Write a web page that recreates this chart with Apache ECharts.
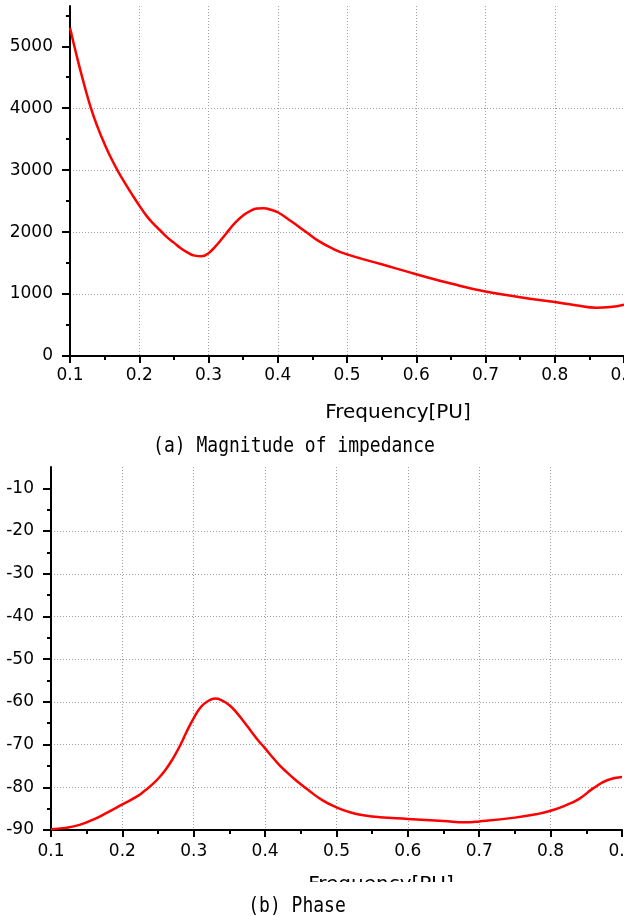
<!DOCTYPE html>
<html>
<head>
<meta charset="utf-8">
<script src="https://cdn.jsdelivr.net/npm/echarts@6/dist/echarts.min.js"></script>
<style>
html,body{margin:0;padding:0;background:#fff;}
#chart{width:624px;height:916px;}
</style>
</head>
<body>
<div id="chart"></div>
<script>
// ---- data ----
const magFreq = [0.10,0.11,0.12,0.13,0.14,0.15,0.16,0.17,0.18,0.19,0.20,0.21,0.22,0.23,0.24,0.25,0.26,0.27,0.28,0.29,0.30,0.31,0.32,0.33,0.34,0.35,0.36,0.37,0.38,0.39,0.40,0.42,0.44,0.46,0.48,0.50,0.55,0.60,0.65,0.70,0.75,0.80,0.83,0.86,0.88,0.90];
const magValues = [5300,4830,4400,4010,3690,3420,3180,2970,2780,2600,2430,2270,2140,2030,1920,1830,1740,1670,1620,1610,1660,1770,1900,2040,2170,2270,2340,2380,2385,2360,2320,2170,2010,1850,1730,1640,1480,1320,1170,1040,950,870,820,780,790,830];
const phaseFreq = [0.10,0.12,0.14,0.16,0.18,0.20,0.22,0.23,0.24,0.25,0.26,0.27,0.28,0.29,0.30,0.31,0.32,0.33,0.34,0.35,0.36,0.37,0.38,0.39,0.40,0.41,0.42,0.43,0.44,0.45,0.46,0.48,0.50,0.52,0.54,0.56,0.60,0.65,0.68,0.70,0.75,0.78,0.80,0.82,0.84,0.86,0.88,0.90];
const phaseValues = [-89.8,-89.5,-88.8,-87.5,-85.8,-84.0,-82.2,-81.0,-79.6,-78.0,-76.0,-73.5,-70.5,-67.0,-63.8,-61.2,-59.8,-59.2,-59.7,-60.8,-62.5,-64.6,-66.8,-69.0,-70.9,-72.9,-74.8,-76.4,-77.9,-79.3,-80.6,-83.0,-84.7,-85.9,-86.6,-87.0,-87.4,-87.9,-88.2,-88.0,-87.1,-86.3,-85.5,-84.3,-82.7,-80.2,-78.3,-77.6];
const xTickLabels = ['0.1','0.2','0.3','0.4','0.5','0.6','0.7','0.8','0.9'];
const magMajorTicks = [0,1000,2000,3000,4000,5000];
const magMinorTicks = [500,1500,2500,3500,4500,5500];
const phaseMajorTicks = [-90,-80,-70,-60,-50,-40,-30,-20,-10];
const phaseMinorTicks = [-85,-75,-65,-55,-45,-35,-25,-15];
const xAxisTitle = 'Frequency[PU]';
const captionA = '(a) Magnitude of impedance';
const captionB = '(b) Phase';

const labelFont = 'DejaVu Sans';
const gridLine = {show: true, lineStyle: {color: '#a0a0a0', type: [1, 2], width: 1}, showMaxLine: false, showMinLine: false};

function xAxisCfg(gridIndex, margin) {
  return {
    type: 'value', gridIndex, min: 0.1, max: 0.9, interval: 0.1,
    axisLine: {show: true, onZero: false, lineStyle: {color: '#000', width: 2}},
    axisTick: {show: true, length: 7, lineStyle: {color: '#000', width: 2}},
    minorTick: {show: true, splitNumber: 2, length: 4, lineStyle: {color: '#000', width: 2}},
    axisLabel: {color: '#000', fontFamily: labelFont, fontSize: 17, margin,
      formatter: v => xTickLabels[Math.round((v - 0.1) * 10)] || ''},
    splitLine: gridLine
  };
}
function yMajor(gridIndex, min, max, interval, ticks) {
  return {
    type: 'value', gridIndex, min, max, interval, position: 'left',
    axisLine: {show: true, onZero: false, lineStyle: {color: '#000', width: 2}},
    axisTick: {show: true, length: 8, customValues: ticks, lineStyle: {color: '#000', width: 2}},
    axisLabel: {color: '#000', fontFamily: labelFont, fontSize: 17, margin: 17, customValues: ticks,
      formatter: v => String(v)},
    splitLine: gridLine
  };
}
function yMinor(gridIndex, min, max, interval, ticks) {
  return {
    type: 'value', gridIndex, min, max, interval, position: 'left',
    axisLine: {show: false},
    axisTick: {show: true, length: 4, customValues: ticks, lineStyle: {color: '#000', width: 2}},
    axisLabel: {show: false},
    splitLine: {show: false}
  };
}

const chart = echarts.init(document.getElementById('chart'), null, {renderer: 'canvas'});
const captionFont = '18px "DejaVu Sans Mono", monospace';
function textEl(text, x, y, font, z, sy) {
  return {type: 'text', z, x, y, scaleY: sy || 1,
    style: {text, x: 0, y: 0, font, fill: '#000', align: 'center', verticalAlign: 'middle', textAlign: 'center', textVerticalAlign: 'middle'}};
}
chart.setOption({
  animation: false,
  backgroundColor: '#fff',
  grid: [
    {left: 70, right: 0, top: 6, bottom: 560, containLabel: false, outerBoundsMode: 'none'},
    {left: 51, right: 2, top: 467, bottom: 86, containLabel: false, outerBoundsMode: 'none'}
  ],
  xAxis: [xAxisCfg(0, 11), xAxisCfg(1, 13)],
  yAxis: [
    yMajor(0, 0, 5650, 1000, magMajorTicks),
    yMinor(0, 0, 5650, 1000, magMinorTicks),
    yMajor(1, -90, -5, 10, phaseMajorTicks),
    yMinor(1, -90, -5, 10, phaseMinorTicks)
  ],
  series: [
    {type: 'line', xAxisIndex: 0, yAxisIndex: 0, data: magFreq.map((f, i) => [f, magValues[i]]),
     smooth: 0.5, showSymbol: false, lineStyle: {color: '#ff0000', width: 2.5}, z: 5},
    {type: 'line', xAxisIndex: 1, yAxisIndex: 2, data: phaseFreq.map((f, i) => [f, phaseValues[i]]),
     smooth: 0.5, showSymbol: false, lineStyle: {color: '#ff0000', width: 2.5}, z: 5}
  ],
  graphic: [
    textEl(xAxisTitle, 398, 413, '20px "DejaVu Sans"', 10),
    textEl(captionA, 294, 446, captionFont, 10, 1.2),
    textEl(xAxisTitle, 381, 885, '20px "DejaVu Sans"', 10),
    {type: 'rect', z: 11, shape: {x: 0, y: 882, width: 624, height: 34}, style: {fill: '#fff'}},
    textEl(captionB, 297, 906, captionFont, 12, 1.2)
  ]
});
</script>
</body>
</html>
